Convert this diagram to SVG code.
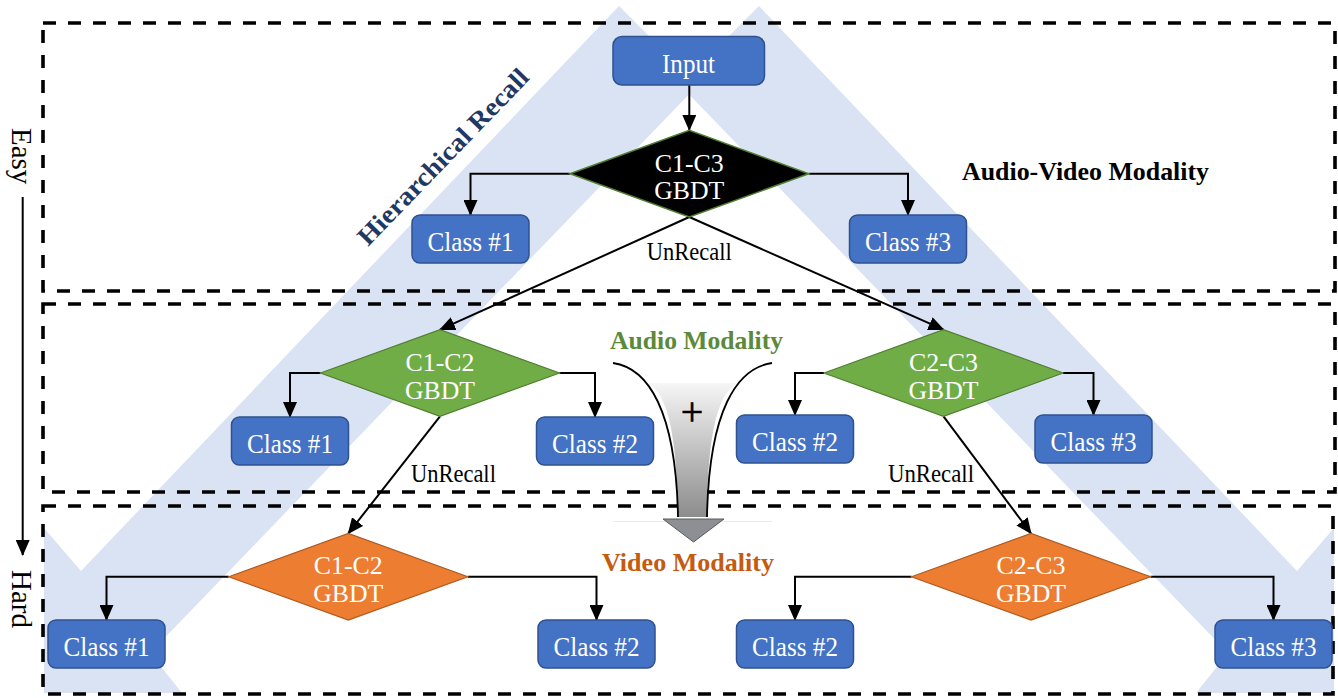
<svg xmlns="http://www.w3.org/2000/svg" width="1338" height="698" viewBox="0 0 1338 698">
<defs>
<marker id="ah" viewBox="0 0 16 14" refX="15" refY="7" markerWidth="16" markerHeight="14" markerUnits="userSpaceOnUse" orient="auto"><path d="M0,0 L16,7 L0,14 z" fill="#000"/></marker>
<linearGradient id="fun" x1="0" y1="0" x2="0" y2="1"><stop offset="0" stop-color="#f6f6f6"/><stop offset="1" stop-color="#8c8c8c"/></linearGradient>
<style>
.band{fill:#DAE3F3}
.dash{fill:none;stroke:#000;stroke-width:3.6;stroke-dasharray:13 12}
.box{fill:#4472C4;stroke:#2F528F;stroke-width:1.5}
.dg{fill:#70AD47;stroke:#507E32;stroke-width:1.2}
.do{fill:#ED7D31;stroke:#AE5A21;stroke-width:1.2}
.db{fill:#000;stroke:#507E32;stroke-width:1.5}
.wt{font-family:"Liberation Serif","Times New Roman",serif;font-size:28px;fill:#fff;text-anchor:middle}
.dt{font-family:"Liberation Serif","Times New Roman",serif;font-size:24.5px;fill:#fff;text-anchor:middle}
.bt{font-family:"Liberation Serif","Times New Roman",serif;font-size:25px;fill:#000;text-anchor:middle}
.side{font-family:"Liberation Serif","Times New Roman",serif;font-size:29px;fill:#000}
.hd{font-family:"Liberation Serif","Times New Roman",serif;font-size:26px;font-weight:bold}
.conn path{fill:none;stroke:#000;stroke-width:2}
</style>
</defs>
<rect width="1338" height="698" fill="#fff"/>
<g id="background">
<polygon class="band" points="619,6 698,85 150,653 182,693 44,693 44,528 81,571"/>
<polygon class="band" points="759,6 680,85 1228,653 1196,693 1334,693 1334,528 1297,571"/>
</g>
<g id="stages">
<rect class="dash" x="43" y="23" width="1292" height="268"/>
<rect class="dash" x="43" y="304" width="1292" height="188"/>
<rect class="dash" x="43" y="506" width="1290" height="188"/>
</g>
<g id="difficulty">
<text class="side" transform="translate(12,128) rotate(90)">Easy</text>
<path d="M22.7,197 V555" stroke="#000" stroke-width="2" fill="none" marker-end="url(#ah)"/>
<text class="side" transform="translate(12,570) rotate(90)">Hard</text>
</g>
<g id="labels">
<text class="hd" fill="#1F3864" font-size="27" transform="translate(368,247) rotate(-46)" textLength="234" lengthAdjust="spacingAndGlyphs">Hierarchical Recall</text>
<text class="hd" fill="#000" x="962" y="180" textLength="247" lengthAdjust="spacingAndGlyphs">Audio-Video Modality</text>
<text class="hd" fill="#5B8A3A" x="610" y="348.5" textLength="173" lengthAdjust="spacingAndGlyphs">Audio Modality</text>
<text class="hd" fill="#C55A11" x="602" y="571" textLength="172" lengthAdjust="spacingAndGlyphs">Video Modality</text>
</g>
<g id="funnel">
<line x1="613" y1="521.5" x2="772" y2="521.5" stroke="#ececec" stroke-width="1"/>
<path d="M648,383 C667,395 677,430 678,517 L707,517 C708,430 718,395 737,383 Z" fill="url(#fun)"/>
<path d="M613,363 C648,368 676,410 678,517 M772,363 C737,368 709,410 707,517" fill="none" stroke="#000" stroke-width="1.8"/>
<polygon points="663,519 724,519 693.5,542" fill="#8C8F94" stroke="#5a5a5a" stroke-width="1"/>
<text x="692" y="425" font-family="Liberation Serif, serif" font-size="40" text-anchor="middle" fill="#000" stroke="#000" stroke-width="0.6">+</text>
</g>
<g id="connectors" class="conn">
<path d="M689.3,85 V130" marker-end="url(#ah)"/>
<path d="M570,173.7 H470.5 V215" marker-end="url(#ah)"/>
<path d="M808.8,173.7 H908 V215" marker-end="url(#ah)"/>
<path d="M689.3,217 L440,329.7" marker-end="url(#ah)"/>
<path d="M689.3,217 L943.5,329.7" marker-end="url(#ah)"/>
<path d="M320.5,373 H290 V417" marker-end="url(#ah)"/>
<path d="M559.5,373 H595 V417" marker-end="url(#ah)"/>
<path d="M824,373 H795 V415" marker-end="url(#ah)"/>
<path d="M1063,373 H1093.5 V415" marker-end="url(#ah)"/>
<path d="M440,416.3 L348.3,533.4" marker-end="url(#ah)"/>
<path d="M943.5,416.3 L1031,533.4" marker-end="url(#ah)"/>
<path d="M228.8,576.7 H106.5 V620" marker-end="url(#ah)"/>
<path d="M467.8,576.7 H596.5 V620" marker-end="url(#ah)"/>
<path d="M911.5,576.7 H795 V620" marker-end="url(#ah)"/>
<path d="M1150.5,576.7 H1273.5 V620" marker-end="url(#ah)"/>
</g>
<g id="connector-labels">
<text class="bt" x="689.3" y="260" textLength="85" lengthAdjust="spacingAndGlyphs">UnRecall</text>
<text class="bt" x="453.4" y="481.7" textLength="85" lengthAdjust="spacingAndGlyphs">UnRecall</text>
<text class="bt" x="931" y="481.7" textLength="86" lengthAdjust="spacingAndGlyphs">UnRecall</text>
</g>
<g id="input">
<rect class="box" x="613" y="36.5" width="151.5" height="48.5" rx="9"/>
<text class="wt" x="688.5" y="73" textLength="53" lengthAdjust="spacingAndGlyphs">Input</text>
</g>
<g id="gbdt-c1c3">
<polygon class="db" points="570,173.7 689.3,130.3 808.8,173.7 689.3,217"/>
<text class="dt" x="689.3" y="171.5" textLength="69" lengthAdjust="spacingAndGlyphs">C1-C3</text>
<text class="dt" x="689.3" y="198.5" textLength="70" lengthAdjust="spacingAndGlyphs">GBDT</text>
</g>
<g id="top-class1">
<rect class="box" x="412" y="215" width="117" height="48" rx="8"/>
<text class="wt" x="470.5" y="251" textLength="86" lengthAdjust="spacingAndGlyphs">Class #1</text>
</g>
<g id="top-class3">
<rect class="box" x="849.5" y="215" width="117" height="48" rx="8"/>
<text class="wt" x="908" y="251" textLength="86" lengthAdjust="spacingAndGlyphs">Class #3</text>
</g>
<g id="audio-c1c2">
<polygon class="dg" points="320.5,373 440,329.7 559.5,373 440,416.3"/>
<text class="dt" x="440" y="370.7" textLength="69" lengthAdjust="spacingAndGlyphs">C1-C2</text>
<text class="dt" x="440" y="398.5" textLength="70" lengthAdjust="spacingAndGlyphs">GBDT</text>
</g>
<g id="audio-c2c3">
<polygon class="dg" points="824,373 943.5,329.7 1063,373 943.5,416.3"/>
<text class="dt" x="943.5" y="370.7" textLength="69" lengthAdjust="spacingAndGlyphs">C2-C3</text>
<text class="dt" x="943.5" y="398.5" textLength="70" lengthAdjust="spacingAndGlyphs">GBDT</text>
</g>
<g id="mid-class1">
<rect class="box" x="231.5" y="417" width="117" height="48" rx="8"/>
<text class="wt" x="290" y="453" textLength="86" lengthAdjust="spacingAndGlyphs">Class #1</text>
</g>
<g id="mid-class2a">
<rect class="box" x="536.5" y="417" width="117" height="48" rx="8"/>
<text class="wt" x="595" y="453" textLength="86" lengthAdjust="spacingAndGlyphs">Class #2</text>
</g>
<g id="mid-class2b">
<rect class="box" x="736.5" y="415" width="117" height="48" rx="8"/>
<text class="wt" x="795" y="451" textLength="86" lengthAdjust="spacingAndGlyphs">Class #2</text>
</g>
<g id="mid-class3">
<rect class="box" x="1035" y="415" width="117" height="48" rx="8"/>
<text class="wt" x="1093.5" y="451" textLength="86" lengthAdjust="spacingAndGlyphs">Class #3</text>
</g>
<g id="video-c1c2">
<polygon class="do" points="228.8,576.7 348.3,533.4 467.8,576.7 348.3,620"/>
<text class="dt" x="348.3" y="574.3" textLength="69" lengthAdjust="spacingAndGlyphs">C1-C2</text>
<text class="dt" x="348.3" y="602" textLength="70" lengthAdjust="spacingAndGlyphs">GBDT</text>
</g>
<g id="video-c2c3">
<polygon class="do" points="911.5,576.7 1031,533.4 1150.5,576.7 1031,620"/>
<text class="dt" x="1031" y="574.3" textLength="69" lengthAdjust="spacingAndGlyphs">C2-C3</text>
<text class="dt" x="1031" y="602" textLength="70" lengthAdjust="spacingAndGlyphs">GBDT</text>
</g>
<g id="bot-class1">
<rect class="box" x="48" y="620" width="117" height="48" rx="8"/>
<text class="wt" x="106.5" y="656" textLength="86" lengthAdjust="spacingAndGlyphs">Class #1</text>
</g>
<g id="bot-class2a">
<rect class="box" x="538" y="620" width="117" height="48" rx="8"/>
<text class="wt" x="596.5" y="656" textLength="86" lengthAdjust="spacingAndGlyphs">Class #2</text>
</g>
<g id="bot-class2b">
<rect class="box" x="736.5" y="620" width="117" height="48" rx="8"/>
<text class="wt" x="795" y="656" textLength="86" lengthAdjust="spacingAndGlyphs">Class #2</text>
</g>
<g id="bot-class3">
<rect class="box" x="1215" y="620" width="117" height="48" rx="8"/>
<text class="wt" x="1273.5" y="656" textLength="86" lengthAdjust="spacingAndGlyphs">Class #3</text>
</g>
</svg>
